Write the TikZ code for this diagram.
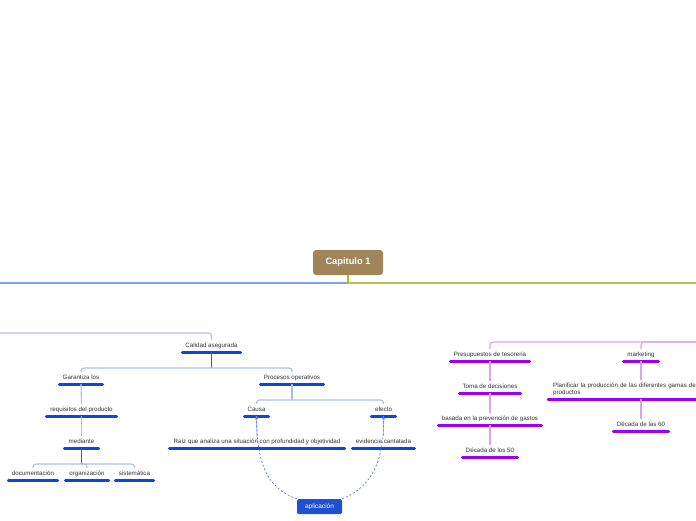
\documentclass[tikz,border=0pt]{standalone}
\usepackage{fontspec}
\setmainfont{Liberation Sans}
\usetikzlibrary{arrows.meta}
\definecolor{txt}{HTML}{333333}
\definecolor{capfill}{HTML}{A0855B}
\definecolor{hubgreen}{HTML}{99CC00}
\definecolor{leftline}{HTML}{7FA0F5}
\definecolor{rightline}{HTML}{B8C050}
\definecolor{barblue}{HTML}{0A46E6}
\definecolor{lblue}{HTML}{A8BEF5}
\definecolor{dblue}{HTML}{3A5CC8}
\definecolor{aplfill}{HTML}{1E50D2}
\definecolor{barpurple}{HTML}{9A00F5}
\definecolor{lpurple}{HTML}{D8A4F2}
\tikzset{
  topic/.style={inner xsep=0pt, inner ysep=2.8pt, minimum width=#1, text height=4.6pt,
    text depth=1.5pt, font=\fontsize{6.2}{7.2}\selectfont, text=txt, anchor=south},
  bbar/.style={draw=barblue, line width=3pt, line cap=round},
  pbar/.style={draw=barpurple, line width=3pt, line cap=round},
  lb/.style={draw=lblue, line width=1.1pt, rounded corners=3pt},
  db/.style={draw=dblue, line width=0.8pt},
  lp/.style={draw=lpurple, line width=1.1pt, rounded corners=3pt},
  dsh/.style={draw=dblue!80, line width=0.7pt, dash pattern=on 2pt off 2pt, -{Stealth[length=3.5pt,width=3pt]}}
}
\begin{document}
\begin{tikzpicture}[x=1pt,y=-1pt]
\useasboundingbox (0,0) rectangle (696,520);
\clip (0,0) rectangle (696,520);
% central topic
\node[fill=capfill, rounded corners=3pt, minimum width=70pt, minimum height=25pt, text=white,
  font=\bfseries\fontsize{9.3}{10}\selectfont] (cap) at (348,262.5) {Capitulo 1};
\coordinate (hub) at (348,283);
\coordinate (lend) at (0,283);
\coordinate (rend) at (696,283);
\draw[draw=hubgreen, line width=1.2pt] (cap.south) -- (hub);
\draw[draw=leftline, line width=1.4pt] (hub) -- (lend);
\draw[draw=rightline, line width=1.4pt] (hub) -- (rend);

% left tree
\node[topic=58pt] (cal) at (211.5,352) {Calidad asegurada};
\node[topic=43pt] (gar) at (81,384) {Garantiza los};
\node[topic=63pt] (pro) at (292,384) {Procesos operativos};
\node[topic=70pt] (req) at (81.5,416) {requisitos del producto};
\node[topic=34pt] (med) at (81.5,448) {mediante};
\node[topic=49pt] (doc) at (33,480) {documentación};
\node[topic=43pt] (org) at (87,480) {organización};
\node[topic=38pt] (sis) at (134.5,480) {sistemática};
\node[topic=24pt] (cau) at (256.5,416) {Causa};
\node[topic=24pt] (efe) at (383.5,416) {efecto};
\node[topic=175pt] (rai) at (257,448) {Raíz que analiza una situación con profundidad y objetividad};
\node[topic=62pt] (evi) at (383.5,448) {evidencia cantatada};
\foreach \n in {cal,gar,pro,req,med,doc,org,sis,cau,efe,rai,evi}
  \draw[bbar] (\n.south west) -- (\n.south east);

\coordinate (lstart) at (0,333);
\draw[lb] (lstart) -| (cal.north);
\coordinate (b1) at (211.5,368);
\draw[db] (cal.south) -- (b1);
\draw[lb] (gar.north) |- (b1) -| (pro.north);
\draw[lb] (gar.south) -- (req.north);
\draw[lb] (req.south) -- (med.north);
\coordinate (b2) at (81.5,464);
\draw[db] (med.south) -- (b2);
\draw[lb] (doc.north) |- (b2) -| (sis.north);
\draw[lb] (b2) -| (org.north);
\coordinate (b3) at (292,400);
\draw[lb, line width=1.8pt] (pro.south) -- (b3);
\draw[lb] (cau.north) |- (b3) -| (efe.north);
\draw[lb] (cau.south) -- (rai.north);
\draw[lb] (efe.south) -- (evi.north);

\node[fill=aplfill, rounded corners=1.5pt, minimum width=45pt, minimum height=15pt, inner sep=0pt,
  text=white, font=\fontsize{6.5}{7}\selectfont] (apl) at (319.5,506.5) {aplicación};
\draw[dsh] (apl.north west) .. controls (266,488) and (257,462) .. (cau.south);
\draw[dsh] (apl.north east) .. controls (374,486) and (384,458) .. (efe.south);

% right tree
\node[topic=79pt] (pres) at (490,361) {Presupuestos de tesoreria};
\node[topic=61pt] (toma) at (490,393) {Toma de decisiones};
\node[topic=103pt] (bas) at (490,425) {basada en la prevención de gastos};
\node[topic=55pt] (d50) at (490,457) {Década de los 50};
\node[topic=35pt] (mkt) at (641,361) {marketing};
\node[topic=55pt] (d60) at (641,431) {Década de las 60};
\node[inner xsep=5pt, inner ysep=3pt, text width=190pt, align=left, anchor=south west,
  font=\fontsize{6.2}{7.2}\selectfont, text=txt] (plan) at (548,399)
  {Planificar la producción de las diferentes gamas de los\\productos};
\foreach \n in {pres,toma,bas,d50,mkt,d60,plan}
  \draw[pbar] (\n.south west) -- (\n.south east);

\coordinate (rc) at (700,342);
\draw[lp] (pres.north) |- (rc);
\draw[lp] (mkt.north) |- (rc);
\draw[lp] (pres.south) -- (toma.north);
\draw[lp] (toma.south) -- (bas.north);
\draw[lp] (bas.south) -- (d50.north);
\draw[lp] (mkt.south) -- (mkt.south |- plan.north);
\draw[lp] (d60.north |- plan.south) -- (d60.north);
\end{tikzpicture}
\end{document}
